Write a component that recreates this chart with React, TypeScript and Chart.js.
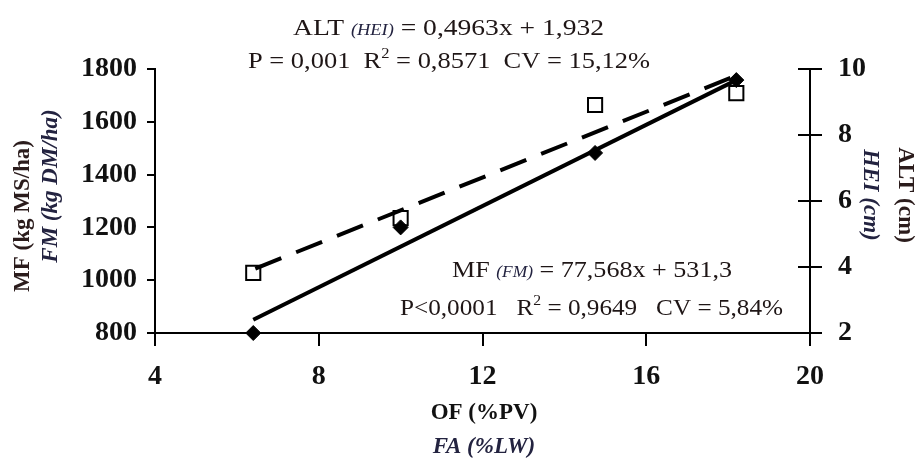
import React, { useEffect, useRef } from "react";
import { Chart, registerables } from "chart.js";

Chart.register(...registerables);

// ---- data ----
const xValues = [6.4, 10, 14.75, 18.2];
const mfValues = [800, 1200, 1482, 1758];
const altValues = [3.82, 5.48, 8.91, 9.27];
const mfTrendX = [6.4, 18.2];
const mfTrendY = [850, 1758];
const altTrendX = [6.45, 18.1];
const altTrendY = [3.95, 9.75];
const xTicks = [4, 8, 12, 16, 20];
const mfTicks = [800, 1000, 1200, 1400, 1600, 1800];
const altTicks = [2, 4, 6, 8, 10];
const xTitle = ["OF (%PV)", "FA (%LW)"];
const leftTitle = ["MF (kg MS/ha)", "FM (kg DM/ha)"];
const rightTitle = ["ALT (cm)", "HEI (cm)"];
const altEq = ["ALT ", "(HEI)", " = 0,4963x + 1,932"];
const altStats = ["P = 0,001  R", "2", " = 0,8571  CV = 15,12%"];
const mfEq = ["MF ", "(FM)", " = 77,568x + 531,3"];
const mfStats = ["P<0,0001   R", "2", " = 0,9649   CV = 5,84%"];

const SERIF = '"Liberation Serif", Tinos, "Times New Roman", serif';
const TXT = "#1f1616";
const TXT2 = "#232340";

type Seg = { t: string; font: string; dy?: number; color?: string };

function drawSegs(ctx: CanvasRenderingContext2D, segs: Seg[], x0: number, base: number, targetW: number) {
  let total = 0;
  const ws: number[] = [];
  for (const s of segs) {
    ctx.font = s.font;
    const w = ctx.measureText(s.t).width;
    ws.push(w);
    total += w;
  }
  ctx.save();
  ctx.translate(x0, base);
  ctx.scale(targetW / total, 1);
  ctx.textBaseline = "alphabetic";
  ctx.textAlign = "left";
  let x = 0;
  segs.forEach((s, i) => {
    ctx.font = s.font;
    ctx.fillStyle = s.color || TXT;
    ctx.fillText(s.t, x, s.dy || 0);
    x += ws[i];
  });
  ctx.restore();
}

function drawRot(ctx: CanvasRenderingContext2D, text: string, font: string, cx: number, cy: number, angle: number, color: string) {
  ctx.save();
  ctx.translate(cx, cy);
  ctx.rotate(angle);
  ctx.font = font;
  ctx.fillStyle = color;
  ctx.textAlign = "center";
  ctx.textBaseline = "middle";
  ctx.fillText(text, 0, 0);
  ctx.restore();
}

const decorPlugin = {
  id: "decor",
  afterDraw(chart: any) {
    const ctx: CanvasRenderingContext2D = chart.ctx;
    const y1 = chart.scales.y1;
    // inner ticks on right axis
    ctx.save();
    ctx.strokeStyle = "#000";
    ctx.lineWidth = 2;
    for (const t of y1.ticks) {
      const py = Math.round(y1.getPixelForValue(t.value));
      ctx.beginPath();
      ctx.moveTo(y1.left, py);
      ctx.lineTo(y1.left - 12, py);
      ctx.stroke();
    }
    ctx.restore();

    const bold = `bold 23px ${SERIF}`;
    const boldIt = `italic bold 23px ${SERIF}`;
    // axis titles
    drawRot(ctx, leftTitle[0], bold, 23, 216, -Math.PI / 2, "#2b1c1c");
    drawRot(ctx, leftTitle[1], boldIt, 51, 186, -Math.PI / 2, TXT2);
    drawRot(ctx, rightTitle[0], bold, 905, 195, Math.PI / 2, "#2b1c1c");
    drawRot(ctx, rightTitle[1], boldIt, 870, 195, Math.PI / 2, TXT2);
    drawRot(ctx, xTitle[0], bold, 484, 413, 0, "#111");
    drawRot(ctx, xTitle[1], boldIt, 484, 447, 0, TXT2);

    // regression annotations
    const reg = `24px ${SERIF}`;
    const smallIt = `italic 16px ${SERIF}`;
    const sup = `15px ${SERIF}`;
    drawSegs(ctx, [
      { t: altEq[0], font: reg },
      { t: altEq[1], font: smallIt, color: TXT2 },
      { t: altEq[2], font: reg },
    ], 293, 35, 311);
    drawSegs(ctx, [
      { t: altStats[0], font: reg },
      { t: altStats[1], font: sup, dy: -10 },
      { t: altStats[2], font: reg },
    ], 248, 68, 402);
    drawSegs(ctx, [
      { t: mfEq[0], font: reg },
      { t: mfEq[1], font: smallIt, color: TXT2 },
      { t: mfEq[2], font: reg },
    ], 452, 277, 280);
    drawSegs(ctx, [
      { t: mfStats[0], font: reg },
      { t: mfStats[1], font: sup, dy: -10 },
      { t: mfStats[2], font: reg },
    ], 400, 315, 383);
  },
};

export default function App() {
  const ref = useRef<HTMLCanvasElement | null>(null);

  useEffect(() => {
    document.body.style.margin = "0";
    const canvas = ref.current;
    if (!canvas) return;
    const tickFont = { family: SERIF, size: 28, weight: "bold" as const };
    const plain = (v: any) => String(v);

    const chart = new Chart(canvas, {
      type: "scatter",
      data: {
        datasets: [
          {
            label: "MF",
            data: xValues.map((x, i) => ({ x, y: mfValues[i] })),
            yAxisID: "y",
            pointStyle: "rectRot",
            pointRadius: 7.5,
            backgroundColor: "#000",
            borderColor: "#000",
            borderWidth: 1,
            showLine: false,
            clip: false,
            order: 1,
          },
          {
            label: "ALT",
            data: xValues.map((x, i) => ({ x, y: altValues[i] })),
            yAxisID: "y1",
            pointStyle: "rect",
            pointRadius: 10,
            backgroundColor: "#fff",
            borderColor: "#000",
            borderWidth: 2,
            showLine: false,
            clip: false,
            order: 4,
          },
          {
            type: "line",
            label: "MF trend",
            data: mfTrendX.map((x, i) => ({ x, y: mfTrendY[i] })),
            yAxisID: "y",
            borderColor: "#000",
            borderWidth: 4,
            pointRadius: 0,
            fill: false,
            clip: false,
            order: 2,
          },
          {
            type: "line",
            label: "ALT trend",
            data: altTrendX.map((x, i) => ({ x, y: altTrendY[i] })),
            yAxisID: "y1",
            borderColor: "#000",
            borderWidth: 4,
            borderDash: [28, 16],
            pointRadius: 0,
            fill: false,
            clip: false,
            order: 3,
          },
        ] as any,
      },
      options: {
        animation: false,
        responsive: false,
        maintainAspectRatio: false,
        layout: { padding: { top: 69, left: 0, right: 0, bottom: 0 } },
        plugins: { legend: { display: false }, tooltip: { enabled: false } },
        scales: {
          x: {
            type: "linear",
            min: xTicks[0],
            max: xTicks[xTicks.length - 1],
            afterBuildTicks: (s: any) => { s.ticks = xTicks.map((v) => ({ value: v })); },
            afterFit: (s: any) => { s.height = 125; },
            border: { display: true, color: "#000", width: 2 },
            grid: { drawOnChartArea: false, drawTicks: true, tickLength: 13, color: "#000", lineWidth: 2 },
            ticks: { color: "#111", font: tickFont, padding: 14, maxRotation: 0, callback: plain },
          },
          y: {
            type: "linear",
            position: "left",
            min: mfTicks[0],
            max: mfTicks[mfTicks.length - 1],
            afterBuildTicks: (s: any) => { s.ticks = mfTicks.map((v) => ({ value: v })); },
            afterFit: (s: any) => { s.width = 155; },
            border: { display: true, color: "#000", width: 2 },
            grid: { drawOnChartArea: false, drawTicks: true, tickLength: 8, color: "#000", lineWidth: 2 },
            ticks: { color: "#111", font: tickFont, padding: 10, callback: plain },
          },
          y1: {
            type: "linear",
            position: "right",
            min: altTicks[0],
            max: altTicks[altTicks.length - 1],
            afterBuildTicks: (s: any) => { s.ticks = altTicks.map((v) => ({ value: v })); },
            afterFit: (s: any) => { s.width = 107; },
            border: { display: true, color: "#000", width: 2 },
            grid: { drawOnChartArea: false, drawTicks: true, tickLength: 12, color: "#000", lineWidth: 2 },
            ticks: { color: "#111", font: tickFont, padding: 16, callback: plain },
          },
        },
      },
      plugins: [decorPlugin],
    });

    let alive = true;
    const fonts = [
      `24px "Liberation Serif"`,
      `bold 28px "Liberation Serif"`,
      `italic 16px "Liberation Serif"`,
      `italic bold 23px "Liberation Serif"`,
    ];
    if ((document as any).fonts && (document as any).fonts.load) {
      Promise.all(fonts.map((f) => (document as any).fonts.load(f)))
        .then(() => { if (alive) chart.update(); })
        .catch(() => {});
    }
    return () => { alive = false; chart.destroy(); };
  }, []);

  return (
    <div style={{ width: 917, height: 458, background: "#fff" }}>
      <canvas ref={ref} width={917} height={458} style={{ display: "block" }} />
    </div>
  );
}
